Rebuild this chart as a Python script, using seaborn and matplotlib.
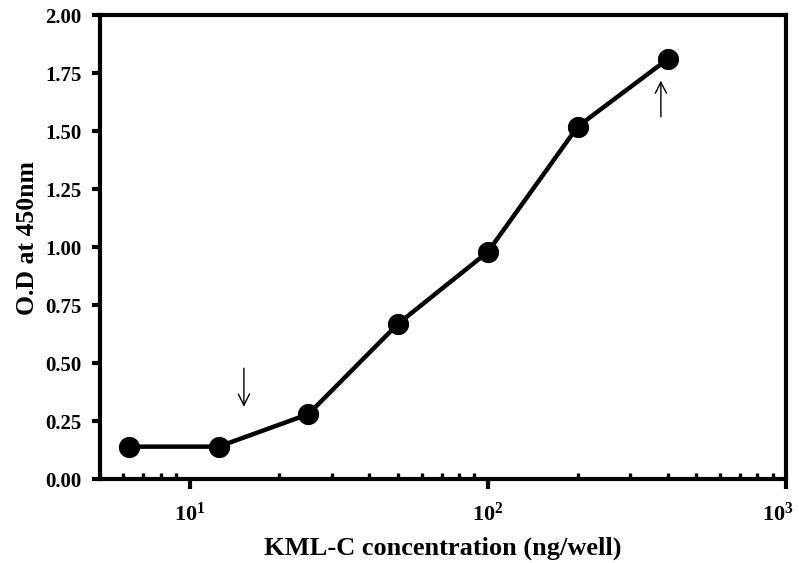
import matplotlib
matplotlib.use("Agg")
import matplotlib.pyplot as plt
import matplotlib.transforms as mtransforms
import seaborn as sns
import pandas as pd
from matplotlib.ticker import FixedLocator, FixedFormatter, LogLocator, NullFormatter

# data
concentration = [6.25, 12.5, 25, 50, 100, 200, 400]
od450 = [0.14, 0.14, 0.28, 0.67, 0.98, 1.52, 1.81]
y_ticks = [0.00, 0.25, 0.50, 0.75, 1.00, 1.25, 1.50, 1.75, 2.00]
y_tick_labels = ["0.00", "0.25", "0.50", "0.75", "1.00", "1.25", "1.50", "1.75", "2.00"]
x_ticks = [10, 100, 1000]
x_tick_labels = [r"$\mathbf{10^{1}}$", r"$\mathbf{10^{2}}$", r"$\mathbf{10^{3}}$"]
x_label = "KML-C concentration (ng/well)"
y_label = "O.D at 450nm"
# arrows: (x, y_tail, y_tip)
arrow_down = (15.2, 0.49, 0.30)
arrow_up = (380, 1.55, 1.73)

sns.set_theme(style="ticks")
plt.rcParams["font.family"] = ["Liberation Serif", "DejaVu Serif"]
plt.rcParams["font.weight"] = "bold"
plt.rcParams["mathtext.fontset"] = "custom"
plt.rcParams["mathtext.rm"] = "Liberation Serif:bold"
plt.rcParams["mathtext.bf"] = "Liberation Serif:bold"

df = pd.DataFrame({"conc": concentration, "od": od450})

fig = plt.figure(figsize=(7.99, 5.63), dpi=100)
ax = fig.add_axes([0.125, 0.149, 0.859, 0.824])

sns.lineplot(data=df, x="conc", y="od", ax=ax, color="black", linewidth=3.2,
             marker="o", markersize=14.5, markeredgecolor="black", markerfacecolor="black")

ax.set_xscale("log")
ax.set_xlim(5, 1000)
ax.set_ylim(0, 2.0)

ax.xaxis.set_major_locator(FixedLocator(x_ticks))
ax.xaxis.set_major_formatter(FixedFormatter(x_tick_labels))
ax.xaxis.set_minor_locator(LogLocator(base=10, subs=[2, 3, 4, 5, 6, 7, 8, 9]))
ax.xaxis.set_minor_formatter(NullFormatter())
ax.set_yticks(y_ticks)
ax.set_yticklabels(y_tick_labels)

for s in ax.spines.values():
    s.set_linewidth(3.0)
    s.set_color("black")

ax.tick_params(axis="y", which="major", direction="out", length=6, width=3.0,
               labelsize=15, colors="black", pad=7)
ax.tick_params(axis="x", which="major", direction="out", length=7, width=3.0,
               labelsize=16, colors="black", pad=10)
ax.tick_params(axis="x", which="minor", direction="in", length=4, width=2.4, colors="black")

for lab in ax.get_yticklabels():
    lab.set_fontweight("bold")

# nudge last x tick label slightly left so it stays inside the figure
fig.canvas.draw()
xlabs = ax.get_xticklabels()
off = mtransforms.ScaledTranslation(-8 / 100, 0, fig.dpi_scale_trans)
xlabs[-1].set_transform(xlabs[-1].get_transform() + off)

ax.set_xlabel(x_label, fontsize=19, fontweight="bold", labelpad=8, color="black")
ax.set_ylabel(y_label, fontsize=18.5, fontweight="bold", color="black")
ax.yaxis.set_label_coords(-0.088, 0.52)

ax.annotate("", xy=(arrow_down[0], arrow_down[2]), xytext=(arrow_down[0], arrow_down[1]),
            arrowprops=dict(arrowstyle="->", color="black", lw=1.0, mutation_scale=20))
ax.annotate("", xy=(arrow_up[0], arrow_up[2]), xytext=(arrow_up[0], arrow_up[1]),
            arrowprops=dict(arrowstyle="->", color="black", lw=1.0, mutation_scale=20))

fig.savefig("out.png", dpi=100)
